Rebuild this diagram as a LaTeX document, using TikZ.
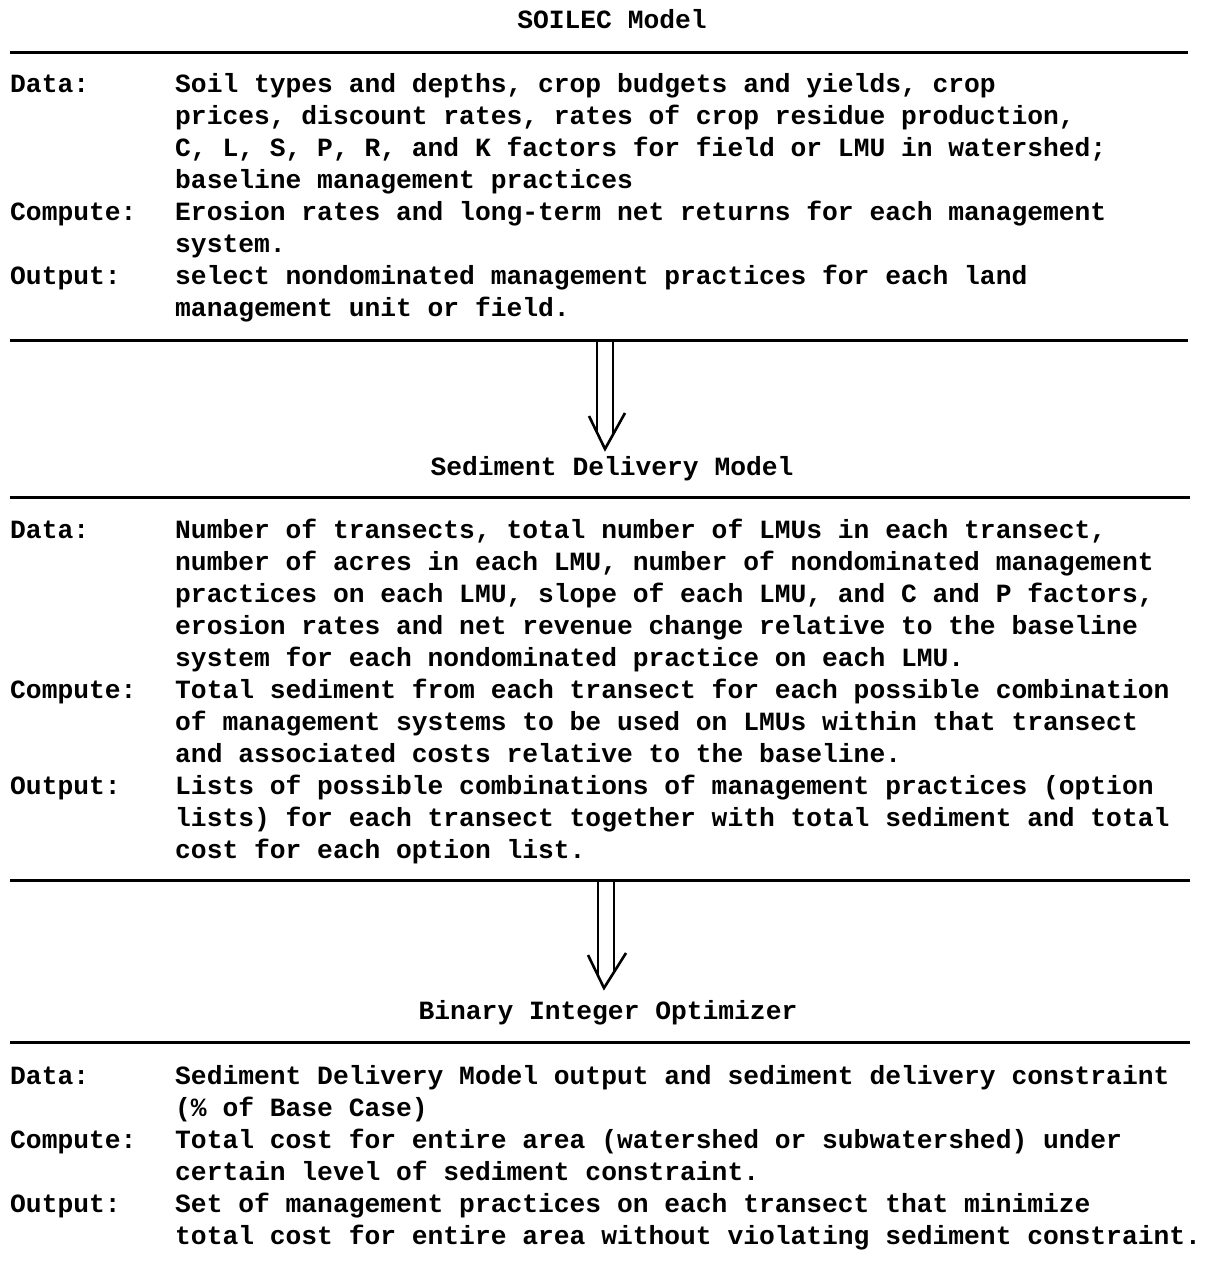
\documentclass[tikz,border=0pt]{standalone}
\usepackage{fontspec}
\newfontfamily\typew{Liberation Mono}
\tikzset{
  txt/.style={anchor=base west, inner sep=0pt, font=\typew\bfseries\fontsize{26.3}{30}\selectfont},
  head/.style={anchor=base, inner sep=0pt, font=\typew\bfseries\fontsize{26.3}{30}\selectfont},
  rule/.style={line width=3pt},
  arr/.style={line width=2.6pt, line join=miter}
}
\begin{document}
\begin{tikzpicture}[x=1pt,y=-1pt]
\useasboundingbox (0,0) rectangle (1231,1261);
% ---------------- SOILEC block
\node[head] (h1) at (612,28) {SOILEC Model};
\coordinate (r1a) at (10,52); \coordinate (r1b) at (1188,52);
\draw[rule] (r1a) -- (r1b);
\node[txt] (d1l) at (10,92) {Data:};
\node[txt] (d1a) at (175,92) {Soil types and depths, crop budgets and yields, crop};
\node[txt] (d1b) at (175,124) {prices, discount rates, rates of crop residue production,};
\node[txt] (d1c) at (175,156) {C, L, S, P, R, and K factors for field or LMU in watershed;};
\node[txt] (d1d) at (175,188) {baseline management practices};
\node[txt] (c1l) at (10,220) {Compute:};
\node[txt] (c1a) at (175,220) {Erosion rates and long-term net returns for each management};
\node[txt] (c1b) at (175,252) {system.};
\node[txt] (o1l) at (10,284) {Output:};
\node[txt] (o1a) at (175,284) {select nondominated management practices for each land};
\node[txt] (o1b) at (175,316) {management unit or field.};
\coordinate (r2a) at (10,340); \coordinate (r2b) at (1188,340);
\draw[rule] (r2a) -- (r2b);
% arrow 1
\coordinate (a1l) at (597,340); \coordinate (a1r) at (613,340);
\coordinate (a1le) at (597,433); \coordinate (a1re) at (613,435);
\coordinate (a1t) at (605,449);
\draw[arr] (a1l) -- (a1le);
\draw[arr] (a1r) -- (a1re);
\draw[arr] (589,416) -- (a1t) -- (625,413);
% ---------------- Sediment Delivery block
\node[head] (h2) at (612,475) {Sediment Delivery Model};
\coordinate (r3a) at (10,497); \coordinate (r3b) at (1190,497);
\draw[rule] (r3a) -- (r3b);
\node[txt] (d2l) at (10,538) {Data:};
\node[txt] (d2a) at (175,538) {Number of transects, total number of LMUs in each transect,};
\node[txt] (d2b) at (175,570) {number of acres in each LMU, number of nondominated management};
\node[txt] (d2c) at (175,602) {practices on each LMU, slope of each LMU, and C and P factors,};
\node[txt] (d2d) at (175,634) {erosion rates and net revenue change relative to the baseline};
\node[txt] (d2e) at (175,666) {system for each nondominated practice on each LMU.};
\node[txt] (c2l) at (10,698) {Compute:};
\node[txt] (c2a) at (175,698) {Total sediment from each transect for each possible combination};
\node[txt] (c2b) at (175,730) {of management systems to be used on LMUs within that transect};
\node[txt] (c2c) at (175,762) {and associated costs relative to the baseline.};
\node[txt] (o2l) at (10,794) {Output:};
\node[txt] (o2a) at (175,794) {Lists of possible combinations of management practices (option};
\node[txt] (o2b) at (175,826) {lists) for each transect together with total sediment and total};
\node[txt] (o2c) at (175,858) {cost for each option list.};
\coordinate (r4a) at (10,880); \coordinate (r4b) at (1190,880);
\draw[rule] (r4a) -- (r4b);
% arrow 2
\coordinate (a2l) at (598,880); \coordinate (a2r) at (614,880);
\coordinate (a2le) at (598,976); \coordinate (a2re) at (614,972);
\coordinate (a2t) at (604,988);
\draw[arr] (a2l) -- (a2le);
\draw[arr] (a2r) -- (a2re);
\draw[arr] (588,955) -- (a2t) -- (626,953);
% ---------------- Binary Integer Optimizer block
\node[head] (h3) at (608,1019) {Binary Integer Optimizer};
\coordinate (r5a) at (10,1042); \coordinate (r5b) at (1190,1042);
\draw[rule] (r5a) -- (r5b);
\node[txt] (d3l) at (10,1084) {Data:};
\node[txt] (d3a) at (175,1084) {Sediment Delivery Model output and sediment delivery constraint};
\node[txt] (d3b) at (175,1116) {(\% of Base Case)};
\node[txt] (c3l) at (10,1148) {Compute:};
\node[txt] (c3a) at (175,1148) {Total cost for entire area (watershed or subwatershed) under};
\node[txt] (c3b) at (175,1180) {certain level of sediment constraint.};
\node[txt] (o3l) at (10,1212) {Output:};
\node[txt] (o3a) at (175,1212) {Set of management practices on each transect that minimize};
\node[txt] (o3b) at (175,1244) {total cost for entire area without violating sediment constraint.};
\end{tikzpicture}
\end{document}
